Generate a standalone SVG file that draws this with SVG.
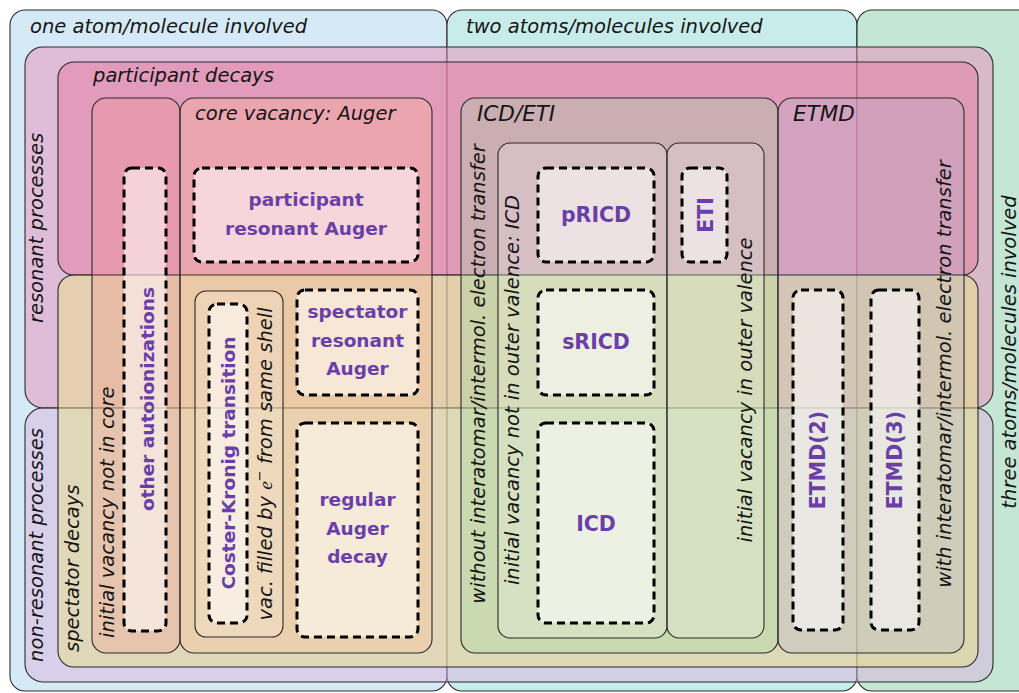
<svg xmlns="http://www.w3.org/2000/svg" width="1019" height="693" viewBox="0 0 1019 693">
<style>
.reg{stroke:#2b2b2b;stroke-width:1.1}
.dash{fill:#ffffff;fill-opacity:0.55;stroke:#000;stroke-width:3;stroke-dasharray:8 5}
.lab{font-family:"DejaVu Sans",sans-serif;font-style:italic;font-size:19.5px;fill:#151515}
.big{font-size:21.5px}
.b{font-family:"DejaVu Sans",sans-serif;font-weight:bold;font-size:18.5px;fill:#6a40a8;text-anchor:middle}
.bb{font-size:20.5px}
</style>
<rect width="1019" height="693" fill="#ffffff"/>
<g id="one-atom"><rect class="reg" x="10" y="10" width="437" height="681" rx="15" fill="#d5eaf6"/><text class="lab" x="30" y="33">one atom/molecule involved</text></g>
<g id="two-atoms"><rect class="reg" x="447" y="10" width="410" height="681" rx="15" fill="#c8ecea"/><text class="lab" x="466" y="33">two atoms/molecules involved</text></g>
<g id="three-atoms"><rect class="reg" x="857" y="10" width="200" height="681" rx="15" fill="#c3e6d5"/><text class="lab" transform="translate(1016,352) rotate(-90)" text-anchor="middle">three atoms/molecules involved</text></g>
<g id="resonant"><rect class="reg" x="25" y="47" width="968" height="361" rx="18" fill="rgb(233,142,186)" fill-opacity="0.5"/><text class="lab" transform="translate(43,228) rotate(-90)" text-anchor="middle">resonant processes</text></g>
<g id="non-resonant"><rect class="reg" x="25" y="408" width="968" height="274" rx="18" fill="rgb(219,180,222)" fill-opacity="0.5"/><text class="lab" transform="translate(43,545) rotate(-90)" text-anchor="middle">non-resonant processes</text></g>
<g id="participant-decays"><rect class="reg" x="58" y="62" width="920" height="213" rx="16" fill="rgb(231,122,160)" fill-opacity="0.5"/><text class="lab" x="93" y="82">participant decays</text></g>
<g id="spectator-decays"><rect class="reg" x="58" y="275" width="920" height="392" rx="16" fill="rgb(234,225,136)" fill-opacity="0.5"/><text class="lab" transform="translate(79,652) rotate(-90)">spectator decays</text></g>
<g id="not-in-core"><rect class="reg" x="92" y="98" width="88" height="555" rx="14" fill="rgb(241,149,149)" fill-opacity="0.3"/><text class="lab" transform="translate(114,638) rotate(-90)">initial vacancy not in core</text></g>
<g id="core-vacancy"><rect class="reg" x="180" y="98" width="252" height="555" rx="14" fill="rgb(255,189,143)" fill-opacity="0.3"/><text class="lab" x="195" y="120">core vacancy: Auger</text></g>
<g id="icd-eti"><rect class="reg" x="461" y="98" width="317" height="555" rx="14" fill="rgb(153,218,162)" fill-opacity="0.3"/><text class="lab big" x="477" y="121">ICD/ETI</text><text class="lab" transform="translate(485,374) rotate(-90)" text-anchor="middle">without interatomar/intermol. electron transfer</text></g>
<g id="etmd"><rect class="reg" x="778" y="98" width="186" height="555" rx="14" fill="rgb(180,180,210)" fill-opacity="0.3"/><text class="lab big" x="793" y="121">ETMD</text><text class="lab" transform="translate(951,374) rotate(-90)" text-anchor="middle">with interatomar/intermol. electron transfer</text></g>
<g id="same-shell"><rect class="reg" x="195" y="291" width="88" height="346" rx="11" fill="#ffffff" fill-opacity="0.2"/><text class="lab" transform="translate(272,464) rotate(-90)" text-anchor="middle">vac. filled by <tspan font-family="'Liberation Serif',serif">e</tspan><tspan font-size="13" dy="-8">−</tspan><tspan dy="8"> from same shell</tspan></text></g>
<g id="not-outer-valence"><rect class="reg" x="498" y="143" width="169" height="495" rx="12" fill="#ffffff" fill-opacity="0.22"/><text class="lab" transform="translate(519,390) rotate(-90)" text-anchor="middle">initial vacancy not in outer valence: ICD</text></g>
<g id="outer-valence"><rect class="reg" x="667" y="143" width="97" height="495" rx="12" fill="#ffffff" fill-opacity="0.22"/><text class="lab" transform="translate(752,390) rotate(-90)" text-anchor="middle">initial vacancy in outer valence</text></g>
<g id="other-autoionizations"><rect class="dash" x="124" y="168" width="42" height="463" rx="8"/><text class="b" transform="translate(154,399) rotate(-90)">other autoionizations</text></g>
<g id="participant-resonant-auger"><rect class="dash" x="194" y="168" width="224" height="94" rx="8"/><text class="b" x="306" y="206">participant</text><text class="b" x="306" y="235">resonant Auger</text></g>
<g id="coster-kronig"><rect class="dash" x="209" y="304" width="38" height="319" rx="8"/><text class="b" transform="translate(235,463) rotate(-90)">Coster-Kronig transition</text></g>
<g id="spectator-resonant-auger"><rect class="dash" x="297" y="290" width="121" height="105" rx="8"/><text class="b" x="357.5" y="318">spectator</text><text class="b" x="357.5" y="347">resonant</text><text class="b" x="357.5" y="375">Auger</text></g>
<g id="regular-auger"><rect class="dash" x="297" y="423" width="121" height="214" rx="8"/><text class="b" x="357.5" y="506">regular</text><text class="b" x="357.5" y="535">Auger</text><text class="b" x="357.5" y="563">decay</text></g>
<g id="pRICD"><rect class="dash" x="538" y="168" width="116" height="94" rx="8"/><text class="b bb" x="596" y="222">pRICD</text></g>
<g id="ETI"><rect class="dash" x="682" y="168" width="45" height="94" rx="8"/><text class="b bb" transform="translate(713,215) rotate(-90)">ETI</text></g>
<g id="sRICD"><rect class="dash" x="538" y="290" width="116" height="105" rx="8"/><text class="b bb" x="596" y="349">sRICD</text></g>
<g id="ICD"><rect class="dash" x="538" y="423" width="116" height="200" rx="8"/><text class="b bb" x="596" y="531">ICD</text></g>
<g id="ETMD2"><rect class="dash" x="793" y="290" width="50" height="340" rx="8"/><text class="b bb" transform="translate(825,460) rotate(-90)">ETMD(2)</text></g>
<g id="ETMD3"><rect class="dash" x="871" y="290" width="48" height="340" rx="8"/><text class="b bb" transform="translate(902,460) rotate(-90)">ETMD(3)</text></g>
<g id="connectors"/>
</svg>
